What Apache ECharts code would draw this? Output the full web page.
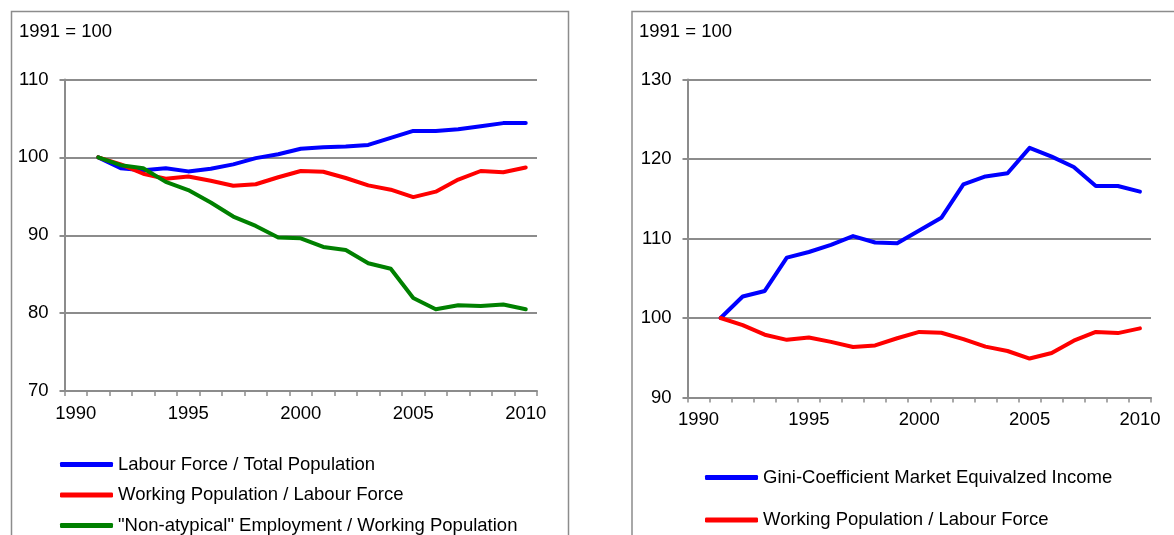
<!DOCTYPE html>
<html>
<head>
<meta charset="utf-8">
<script src="https://cdn.jsdelivr.net/npm/echarts@6/dist/echarts.min.js"></script>
<style>
html,body{margin:0;padding:0;background:#fff;}
#chart{width:1174px;height:535px;}
</style>
</head>
<body>
<div id="chart"></div>
<script>
var years = ['1990','1991','1992','1993','1994','1995','1996','1997','1998','1999','2000','2001','2002','2003','2004','2005','2006','2007','2008','2009','2010'];
var labourForceTotalPop = ['-',100,98.6,98.35,98.6,98.2,98.55,99.1,99.9,100.4,101.1,101.3,101.4,101.6,102.5,103.4,103.4,103.6,104.0,104.4,104.4];
var workingPopLabourForce = ['-',100,99.1,97.9,97.25,97.55,97.0,96.35,96.55,97.45,98.25,98.15,97.35,96.4,95.85,94.9,95.6,97.15,98.25,98.1,98.7];
var nonAtypicalEmployment = ['-',100,99.0,98.6,96.85,95.8,94.2,92.4,91.2,89.7,89.6,88.5,88.1,86.4,85.7,81.95,80.5,81.0,80.9,81.1,80.5];
var giniMarketIncome = ['-',100,102.7,103.4,107.6,108.3,109.2,110.3,109.5,109.4,111.0,112.6,116.8,117.8,118.2,121.4,120.3,119.0,116.6,116.6,115.9];

var nameLF = 'Labour Force / Total Population';
var nameWP = 'Working Population / Labour Force';
var nameNA = '"Non-atypical" Employment / Working Population';
var nameGini = 'Gini-Coefficient Market Equivalzed Income';

var FONT = '"Liberation Sans", Arial, sans-serif';
var GRAY = '#8c8c8c';
var FS = 18.5;

function xAxisCfg(gridIndex){
  return {
    type:'category', gridIndex:gridIndex, data:years, boundaryGap:true,
    axisLine:{lineStyle:{color:GRAY,width:2}},
    axisTick:{show:true, interval:0, length:5, lineStyle:{color:GRAY,width:1.5}},
    axisLabel:{interval:4, color:'#000', fontFamily:FONT, fontSize:FS, margin:13},
    splitLine:{show:false}
  };
}
function yAxisCfg(gridIndex, mn, mx){
  return {
    type:'value', gridIndex:gridIndex, min:mn, max:mx, interval:10,
    axisLine:{show:true, lineStyle:{color:GRAY,width:2}},
    axisTick:{show:true, length:5, lineStyle:{color:GRAY,width:2}},
    axisLabel:{color:'#000', fontFamily:FONT, fontSize:FS, margin:16},
    splitLine:{show:true, lineStyle:{color:GRAY,width:2}}
  };
}
function lineSeries(name, data, color, xi, yi){
  return {
    name:name, type:'line', data:data, xAxisIndex:xi, yAxisIndex:yi,
    showSymbol:false, symbol:'none', connectNulls:false,
    lineStyle:{color:color, width:4, cap:'round', join:'round'},
    itemStyle:{color:color}
  };
}

var chart = echarts.init(document.getElementById('chart'), null, {renderer:'canvas'});
chart.setOption({
  animation:false,
  backgroundColor:'#fff',
  textStyle:{fontFamily:FONT},
  graphic:[
    {type:'rect', shape:{x:11.5, y:11.5, width:557, height:600}, style:{fill:'none', stroke:GRAY, lineWidth:1.5}, silent:true},
    {type:'rect', shape:{x:632, y:11.5, width:600, height:600}, style:{fill:'none', stroke:GRAY, lineWidth:1.5}, silent:true}
  ],
  title:[
    {text:'1991 = 100', left:19, top:22, padding:0, textStyle:{fontFamily:FONT, fontSize:FS, fontWeight:'normal', color:'#000'}},
    {text:'1991 = 100', left:639, top:22, padding:0, textStyle:{fontFamily:FONT, fontSize:FS, fontWeight:'normal', color:'#000'}}
  ],
  legend:[
    {data:[nameLF, nameWP, nameNA], orient:'vertical', left:60, top:455, padding:0, itemGap:11.5,
     itemWidth:53, itemHeight:5, icon:'roundRect', selectedMode:false,
     textStyle:{fontFamily:FONT, fontSize:FS, color:'#000'}},
    {data:[nameGini, nameWP], orient:'vertical', left:705, top:468, padding:0, itemGap:23.5,
     itemWidth:53, itemHeight:5, icon:'roundRect', selectedMode:false,
     textStyle:{fontFamily:FONT, fontSize:FS, color:'#000'}}
  ],
  grid:[
    {left:64.5, right:637, top:79.5, bottom:144, containLabel:false},
    {left:687.5, right:23, top:79.5, bottom:137.5, containLabel:false}
  ],
  xAxis:[xAxisCfg(0), xAxisCfg(1)],
  yAxis:[yAxisCfg(0,70,110), yAxisCfg(1,90,130)],
  series:[
    lineSeries(nameLF, labourForceTotalPop, '#0000ff', 0, 0),
    lineSeries(nameWP, workingPopLabourForce, '#ff0000', 0, 0),
    lineSeries(nameNA, nonAtypicalEmployment, '#008000', 0, 0),
    lineSeries(nameGini, giniMarketIncome, '#0000ff', 1, 1),
    lineSeries(nameWP, workingPopLabourForce, '#ff0000', 1, 1)
  ]
});
</script>
</body>
</html>
